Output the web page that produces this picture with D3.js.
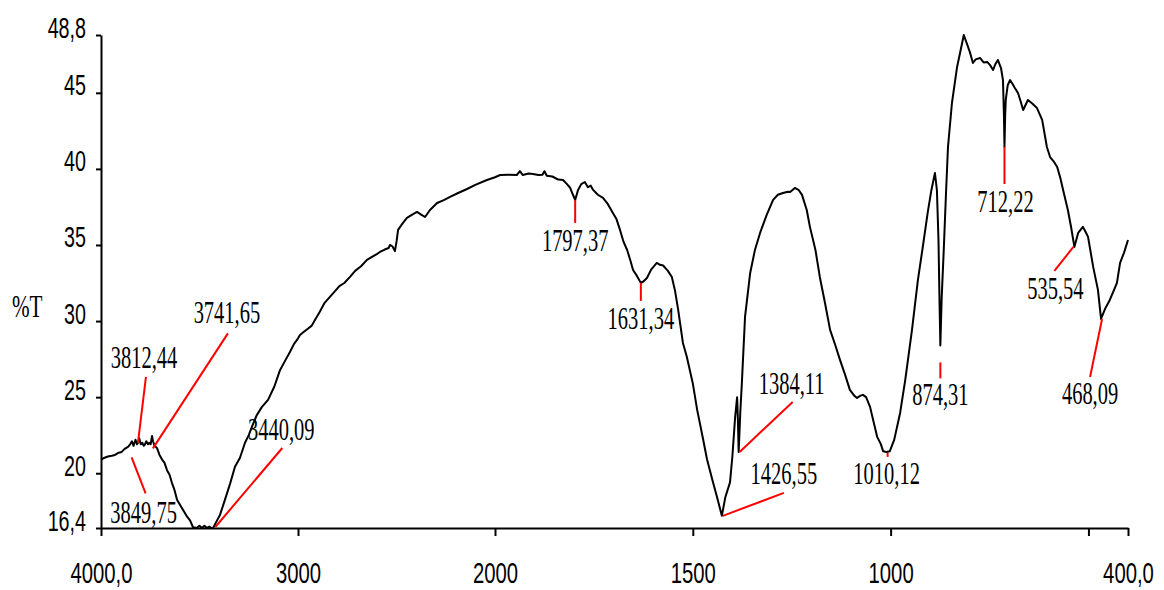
<!DOCTYPE html>
<html>
<head>
<meta charset="utf-8">
<script src="https://cdn.jsdelivr.net/npm/d3@7"></script>
<style>
  html, body { margin: 0; padding: 0; background: #fff; }
  svg { display: block; }
</style>
</head>
<body>
<svg id="chart" width="1164" height="590"></svg>
<script>
// FTIR spectrum: wavenumber (cm-1) vs transmittance (%T)
const wavenumber = [
  4000,3985,3965,3945,3929,3910,3895,3880,3863,3852,3843,3835,3825,3817,3812,3806,3798,3790,3783,3777,
  3770,3762,3755,3748,3741,3736,3728,3716,3703,3690,3678,3665,3652,3640,3627,3614,3600,3584,3566,3548,
  3533,3515,3500,3488,3475,3462,3450,3440,3431,3415,3396,3371,3345,3320,3295,3269,3250,3234,3210,3183,
  3152,3120,3091,3065,3041,3020,3005,2990,2970,2950,2930,2914,2890,2865,2838,2810,2790,2765,2736,2710,
  2680,2650,2620,2600,2584,2560,2540,2533,2520,2508,2500,2492,2470,2447,2420,2396,2375,2355,2330,2294,
  2260,2228,2190,2142,2100,2041,2000,1987,1965,1945,1937,1930,1915,1904,1890,1880,1875,1869,1855,1840,
  1828,1818,1810,1803,1797.37,1790,1782,1773,1765,1758,1752,1740,1727,1715,1702,1693,1684,1675,1666,1658,
  1651,1642,1631.34,1625,1616,1605,1591,1583,1575,1563,1553,1545,1537,1525,1515,1500,1489,1476,1464,1450,
  1439,1426.55,1418,1406,1400,1393,1388,1386,1384.11,1380,1376,1368,1355,1343,1330,1313,1297,1285,1272,1260,
  1254,1242,1232,1224,1212,1204,1190,1179,1166,1153,1140,1128,1115,1103,1092,1085,1076,1070,1062,1052,
  1043,1034,1025,1019,1010.12,1002,991,976,963,946,931,918,906,897,888,883,879,876.5,874.31,871,
  866,860,855,845,832,815,799,792,785,774,765,756,748,741,735,729,721,716,713.5,712.22,
  710.5,709,704,698,692,686,678,672,665,659,653,642,630,617,605,597,588,579,571,564,
  552,544,535.54,526,514,508,501,488,476,468.09,458,446,436,428,420,410,400
];
const transmittance = [
  20.9,21.0,21.1,21.15,21.2,21.35,21.4,21.6,21.73,21.9,22.1,21.8,22.2,21.9,22.0,22.3,21.9,22.0,21.8,21.9,
  22.1,21.9,22.0,21.9,22.45,22.1,21.8,21.66,21.2,20.9,20.7,20.2,19.9,19.37,18.9,18.25,17.95,17.6,17.2,16.9,
  16.45,16.4,16.55,16.4,16.55,16.4,16.5,16.4,16.4,16.8,17.26,18.25,19.3,20.42,21.0,22.0,22.5,23.04,23.8,24.36,
  24.82,25.7,26.79,27.4,27.97,28.5,28.76,29.09,29.3,29.5,29.7,30.07,30.6,31.2,31.59,32.0,32.3,32.5,32.9,33.3,
  33.6,34.02,34.25,34.4,34.54,34.7,34.8,35.0,34.9,34.6,35.2,35.99,36.4,36.78,37.0,37.17,37.0,36.84,37.3,37.76,
  37.95,38.16,38.4,38.68,38.95,39.27,39.45,39.6,39.62,39.6,39.85,39.6,39.7,39.67,39.6,39.62,39.85,39.55,39.5,39.3,
  39.27,39.0,38.75,38.3,37.96,38.62,39.0,39.14,38.8,38.9,38.62,38.3,38.09,37.7,37.1,36.7,35.99,35.2,34.67,34.0,
  33.36,33.0,32.51,32.6,32.83,33.4,33.82,33.7,33.65,33.3,32.9,32.0,30.73,28.56,27.64,25.9,24.16,22.5,20.9,19.5,
  18.45,17.2,18.4,19.4,21.1,23.7,25.0,23.5,21.4,24.0,25.94,30.27,33.16,34.67,35.79,37.0,37.96,38.3,38.42,38.5,
  38.48,38.75,38.6,38.29,37.3,36.19,34.67,32.9,31.2,29.42,28.43,27.45,26.46,25.48,25.1,24.95,25.1,25.15,25.0,24.36,
  23.37,22.39,21.93,21.45,21.4,21.45,22.19,23.96,26.13,29.42,32.7,35.0,37.17,38.6,39.73,38.6,35.3,31.4,28.4,31.5,
  34.5,38.42,41.44,44.33,46.7,48.8,47.62,46.96,47.2,47.29,47.0,47.03,46.8,46.5,46.9,47.16,46.63,45.84,43.41,41.44,
  43.5,44.53,45.5,45.84,45.6,45.32,44.99,44.5,43.87,44.2,44.53,44.3,44.0,43.22,41.44,40.78,40.5,40.13,39.4,38.62,
  37.3,36.2,34.87,35.79,36.19,35.9,35.53,33.56,32.05,30.14,30.8,31.39,32.0,32.51,33.82,34.5,35.33
];

// Labelled absorption bands
const peakWavenumber = [3849.75, 3812.44, 3741.65, 3440.09, 1797.37, 1631.34, 1426.55, 1384.11, 1010.12, 874.31, 712.22, 535.54, 468.09];
const peakTransmittance = [21.9, 22.0, 21.7, 16.4, 37.96, 32.51, 17.2, 21.4, 21.4, 28.4, 41.44, 34.87, 30.14];
const peakLabels = ["3849,75", "3812,44", "3741,65", "3440,09", "1797,37", "1631,34", "1426,55", "1384,11", "1010,12", "874,31", "712,22", "535,54", "468,09"];

// Axis ticks
const xTickValues = [4000, 3000, 2000, 1500, 1000, 500, 400];
const xTickLabels = ["4000,0", "3000", "2000", "1500", "1000", "", "400,0"];
const yTickValues = [48.8, 45, 40, 35, 30, 25, 20, 16.4];
const yTickLabels = ["48,8", "45", "40", "35", "30", "25", "20", "16,4"];

// Leader line and label placement for each band, relative to the band's point:
// [line start dx, dy, line end dx, dy, label dx, label baseline dy]
const calloutLayout = [
  [1, 13, 15, 49, 13, 79],
  [0, 0, 8, -66, 6, -75],
  [1, 1, 76, -114, 75, -124],
  [4, -1, 71, -80, 70, -88],
  [0, 0, 0, 23, 0, 51],
  [0, 0, 0, 18, 0, 46],
  [1, 0, 62, -23, 62, -32],
  [1, 0, 54, -50, 53, -58],
  [1, 1, 1, 5, 0, 32],
  [0, 17, 0, 33, 0, 60],
  [0, 0, 0, 37, 1, 65],
  [-1, 0, -20, 24, -19, 52],
  [1, 0, -11, 58, -11, 85]
];

const svg = d3.select("#chart");

// Wavenumber axis changes scale at 2000 cm-1
const x = d3.scaleLinear().domain([4000, 2000, 400]).range([101, 495, 1128]);
const y = d3.scaleLinear().domain([16.4, 48.8]).range([528, 35]);

const sansFont = "'Liberation Sans', Arial, sans-serif";
const serifFont = "'Liberation Serif', 'Times New Roman', serif";

// X axis
const xAxis = d3.axisBottom(x)
  .tickValues(xTickValues)
  .tickFormat((d, i) => xTickLabels[i])
  .tickSize(8)
  .tickSizeOuter(0);
const gx = svg.append("g").attr("transform", `translate(0,${y(16.4)})`).call(xAxis);
gx.select(".domain").attr("stroke", "#000").attr("stroke-width", 2);
gx.selectAll(".tick line").attr("stroke", "#000").attr("stroke-width", 2);
gx.selectAll(".tick text")
  .attr("y", 0).attr("dy", null)
  .attr("transform", "translate(0,55) scale(0.7,1)")
  .attr("text-anchor", "middle")
  .attr("fill", "#000")
  .style("font-family", sansFont)
  .style("font-size", "29px");

// Y axis
const yAxis = d3.axisLeft(y)
  .tickValues(yTickValues)
  .tickFormat((d, i) => yTickLabels[i])
  .tickSize(5)
  .tickSizeOuter(0);
const gy = svg.append("g").attr("transform", `translate(${x(4000)},0)`).call(yAxis);
gy.select(".domain").attr("stroke", "#000").attr("stroke-width", 2);
gy.selectAll(".tick line").attr("stroke", "#000").attr("stroke-width", 2);
gy.selectAll(".tick text")
  .attr("x", 0).attr("dy", null)
  .attr("transform", "translate(-15,2) scale(0.68,1)")
  .attr("text-anchor", "end")
  .attr("fill", "#000")
  .style("font-family", sansFont)
  .style("font-size", "29px");

svg.selectAll("g").attr("font-family", null).attr("font-size", null);

// Y axis title
svg.append("text")
  .attr("transform", "translate(12,317) scale(0.66,1)")
  .style("font-family", serifFont)
  .style("font-size", "32px")
  .attr("fill", "#000")
  .text("%T");

// Spectrum trace
const spectrum = wavenumber.map((w, i) => [w, transmittance[i]]);
svg.append("path")
  .datum(spectrum)
  .attr("fill", "none")
  .attr("stroke", "#000")
  .attr("stroke-width", 2)
  .attr("stroke-linejoin", "round")
  .attr("d", d3.line().x(d => x(d[0])).y(d => y(d[1])));

// Band callouts
const peaks = peakWavenumber.map((w, i) => ({
  px: x(w), py: y(peakTransmittance[i]), label: peakLabels[i], lay: calloutLayout[i]
}));

const callouts = svg.append("g");
callouts.selectAll("line")
  .data(peaks)
  .join("line")
  .attr("x1", d => d.px + d.lay[0])
  .attr("y1", d => d.py + d.lay[1])
  .attr("x2", d => d.px + d.lay[2])
  .attr("y2", d => d.py + d.lay[3])
  .attr("stroke", "#ff0000")
  .attr("stroke-width", 2);

callouts.selectAll("text")
  .data(peaks)
  .join("text")
  .attr("transform", d => `translate(${d.px + d.lay[4]},${d.py + d.lay[5]}) scale(0.64,1)`)
  .attr("text-anchor", "middle")
  .attr("fill", "#000")
  .style("font-family", serifFont)
  .style("font-size", "32px")
  .text(d => d.label);
</script>
</body>
</html>
